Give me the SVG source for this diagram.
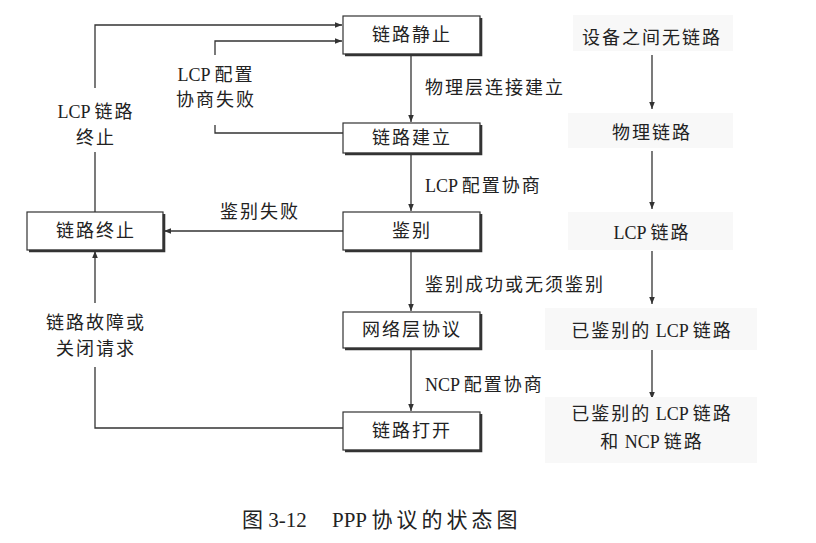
<svg xmlns="http://www.w3.org/2000/svg" width="816" height="543" viewBox="0 0 816 543">
<style>
text{font-family:"Liberation Serif","Noto Sans CJK SC",serif;font-size:18px;fill:#222;dominant-baseline:central}
.c{text-anchor:middle}
.s{letter-spacing:2px}
.l{letter-spacing:0}
.box{fill:#fff;stroke:#333;stroke-width:1.2}
.sh{fill:none;stroke:#333;stroke-width:2.6}
.ln{fill:none;stroke:#333;stroke-width:1.3}
.tone{fill:#f8f8f8}
</style>
<defs>
<marker id="ah" viewBox="0 0 10 10" refX="10" refY="5" markerWidth="7" markerHeight="7" markerUnits="userSpaceOnUse" orient="auto">
<path d="M0,1 L10,5 L0,9 z" fill="#333"/>
</marker>
</defs>
<rect width="816" height="543" fill="#fff"/>
<g id="connectors">
<path class="ln" d="M411,54 V122" marker-end="url(#ah)"/>
<path class="ln" d="M411,153 V211" marker-end="url(#ah)"/>
<path class="ln" d="M411,250 V311" marker-end="url(#ah)"/>
<path class="ln" d="M411,348 V411" marker-end="url(#ah)"/>
<path class="ln" d="M343,231 H164" marker-end="url(#ah)"/>
<path class="ln" d="M95,212 V152"/>
<path class="ln" d="M95,88 V25 H342" marker-end="url(#ah)"/>
<path class="ln" d="M343,133 H215 V125"/>
<path class="ln" d="M215,55 V41 H342" marker-end="url(#ah)"/>
<path class="ln" d="M343,428 H95 V367"/>
<path class="ln" d="M95,303 V251" marker-end="url(#ah)"/>
<path class="ln" d="M652,55 V109" marker-end="url(#ah)"/>
<path class="ln" d="M652,151 V209" marker-end="url(#ah)"/>
<path class="ln" d="M652,251 V304" marker-end="url(#ah)"/>
<path class="ln" d="M652,350 V399" marker-end="url(#ah)"/>
</g>
<g id="n-static"><rect class="box" x="343" y="16" width="137" height="38"/><path class="sh" d="M481,18 V55 H345"/><text class="c s" x="412" y="35">链路静止</text></g>
<g id="n-establish"><rect class="box" x="343" y="123" width="137" height="30"/><path class="sh" d="M481,125 V154 H345"/><text class="c s" x="412" y="138">链路建立</text></g>
<g id="n-auth"><rect class="box" x="343" y="212" width="137" height="38"/><path class="sh" d="M481,214 V251 H345"/><text class="c s" x="412" y="231">鉴别</text></g>
<g id="n-terminate"><rect class="box" x="27" y="212" width="136" height="38"/><path class="sh" d="M164,214 V251 H29"/><text class="c s" x="96" y="231">链路终止</text></g>
<g id="n-network"><rect class="box" x="343" y="312" width="137" height="36"/><path class="sh" d="M481,314 V349 H345"/><text class="c s" x="412" y="330">网络层协议</text></g>
<g id="n-open"><rect class="box" x="343" y="412" width="137" height="38"/><path class="sh" d="M481,414 V451 H345"/><text class="c s" x="412" y="431">链路打开</text></g>
<g id="labels">
<text class="s" x="425" y="88">物理层连接建立</text>
<text class="s" x="425" y="186"><tspan class="l">LCP </tspan>配置协商</text>
<text class="s" x="425" y="285">鉴别成功或无须鉴别</text>
<text class="s" x="425" y="385"><tspan class="l">NCP </tspan>配置协商</text>
<text class="c s" x="260" y="212">鉴别失败</text>
<text class="c s" x="216" y="75"><tspan class="l">LCP </tspan>配置</text>
<text class="c s" x="216" y="100">协商失败</text>
<text class="c s" x="96" y="112"><tspan class="l">LCP </tspan>链路</text>
<text class="c s" x="96" y="138">终止</text>
<text class="c s" x="96" y="323">链路故障或</text>
<text class="c s" x="96" y="349">关闭请求</text>
</g>
<g id="phases">
<rect class="tone" x="573" y="15" width="160" height="36"/>
<rect class="tone" x="568" y="113" width="165" height="35"/>
<rect class="tone" x="568" y="212" width="165" height="38"/>
<rect class="tone" x="545" y="308" width="212" height="42"/>
<rect class="tone" x="545" y="397" width="212" height="66"/>
<text class="c s" x="652" y="38">设备之间无链路</text>
<text class="c s" x="652" y="133">物理链路</text>
<text class="c s" x="652" y="233"><tspan class="l">LCP </tspan>链路</text>
<text class="c s" x="652" y="331">已鉴别的<tspan class="l"> LCP </tspan>链路</text>
<text class="c s" x="652" y="414">已鉴别的<tspan class="l"> LCP </tspan>链路</text>
<text class="c s" x="652" y="442">和<tspan class="l"> NCP </tspan>链路</text>
</g>
<g id="caption">
<text x="242" y="520" style="font-size:21px">图 3-12</text>
<text x="332" y="520" style="font-size:21px;letter-spacing:4px"><tspan style="letter-spacing:0">PPP </tspan>协议的状态图</text>
</g>
</svg>
